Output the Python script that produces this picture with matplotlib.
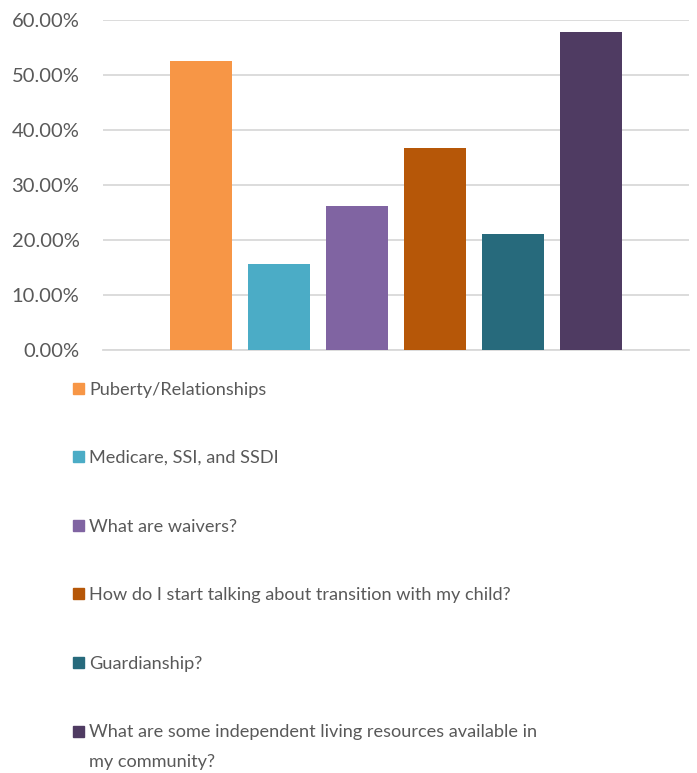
import matplotlib
matplotlib.use("Agg")
import matplotlib.pyplot as plt
from matplotlib.patches import Rectangle
from matplotlib.ticker import FuncFormatter

# Survey topics and share of respondents interested in each
topics = [
    "Puberty/Relationships",
    "Medicare, SSI, and SSDI",
    "What are waivers?",
    "How do I start talking about transition with my child?",
    "Guardianship?",
    "What are some independent living resources available in\nmy community?",
]
shares = [0.525, 0.156, 0.262, 0.367, 0.211, 0.578]
colors = ["#F79646", "#4BACC6", "#8064A2", "#B65708", "#276A7C", "#4F3B62"]
y_ticks = [0.0, 0.1, 0.2, 0.3, 0.4, 0.5, 0.6]

W, H = 697, 773
DPI = 100
plt.rcParams["font.family"] = ["Lato", "DejaVu Sans"]
text_color = "#595959"
grid_color = "#D9D9D9"

fig = plt.figure(figsize=(W / DPI, H / DPI), dpi=DPI)
ax = fig.add_axes([103 / W, 1 - 350 / H, (689 - 103) / W, (350 - 20) / H])

positions = list(range(len(shares)))
ax.bar(positions, shares, width=62 / 78, color=colors, zorder=3)

ax.set_xlim(-98 / 78, len(shares) - 1 + 98 / 78)
ax.set_ylim(y_ticks[0], y_ticks[-1])
ax.set_yticks(y_ticks)
ax.yaxis.set_major_formatter(FuncFormatter(lambda v, _: f"{v * 100:.2f}%"))
ax.set_xticks([])
ax.grid(axis="y", color=grid_color, linewidth=1.3, zorder=0)
for side in ("top", "right", "left"):
    ax.spines[side].set_visible(False)
ax.spines["bottom"].set_color(grid_color)
ax.spines["bottom"].set_linewidth(1.3)
ax.tick_params(axis="y", length=0, pad=17, labelsize=14.5, labelcolor=text_color)

# Legend drawn as a vertical list beneath the plot
row0, pitch, wrap_pitch = 388, 68.6, 29
for i, (label, col) in enumerate(zip(topics, colors)):
    yc = row0 + i * pitch
    fig.patches.append(Rectangle((73 / W, 1 - (yc + 5.5) / H), 11 / W, 11 / H,
                                 transform=fig.transFigure, color=col, figure=fig))
    for j, line in enumerate(label.split("\n")):
        fig.text(89 / W, 1 - (yc + 6.5 + j * wrap_pitch) / H, line, fontsize=13.1,
                 color=text_color, ha="left", va="baseline")

fig.savefig("out.png", dpi=DPI)
